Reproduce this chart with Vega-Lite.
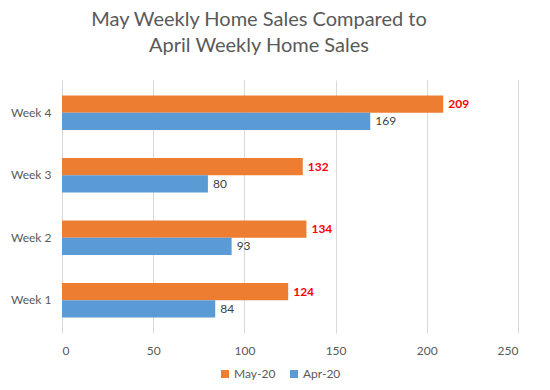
{
  "$schema": "https://vega.github.io/schema/vega-lite/v6.json",
  "width": 550,
  "height": 390,
  "autosize": {"type": "fit", "contains": "padding"},
  "padding": {"left": 10, "right": 32, "top": 10, "bottom": 34},
  "background": "white",
  "title": {
    "text": ["May Weekly Home Sales Compared to", "April Weekly Home Sales"],
    "font": "Lato",
    "fontSize": 20,
    "fontWeight": "normal",
    "color": "#595959",
    "lineHeight": 26,
    "offset": 24,
    "anchor": "middle",
    "dx": -31
  },
  "config": {
    "view": {"stroke": null},
    "font": "Lato"
  },
  "data": {
    "values": [
      {"week": "Week 4", "series": "May-20", "value": 209},
      {"week": "Week 4", "series": "Apr-20", "value": 169},
      {"week": "Week 3", "series": "May-20", "value": 132},
      {"week": "Week 3", "series": "Apr-20", "value": 80},
      {"week": "Week 2", "series": "May-20", "value": 134},
      {"week": "Week 2", "series": "Apr-20", "value": 93},
      {"week": "Week 1", "series": "May-20", "value": 124},
      {"week": "Week 1", "series": "Apr-20", "value": 84}
    ]
  },
  "encoding": {
    "y": {
      "field": "week",
      "type": "nominal",
      "sort": ["Week 4", "Week 3", "Week 2", "Week 1"],
      "scale": {"paddingInner": 0.45, "paddingOuter": 0.25},
      "axis": {
        "title": null,
        "domain": false,
        "ticks": false,
        "labelFontSize": 12,
        "labelColor": "#595959",
        "labelPadding": 11
      }
    },
    "yOffset": {
      "field": "series",
      "sort": ["May-20", "Apr-20"]
    },
    "x": {
      "field": "value",
      "type": "quantitative",
      "scale": {"domain": [0, 250]},
      "axis": {
        "title": null,
        "domain": false,
        "ticks": false,
        "values": [0, 50, 100, 150, 200, 250],
        "labelFontSize": 12,
        "labelColor": "#595959",
        "labelPadding": 12,
        "gridColor": "#D9D9D9"
      }
    }
  },
  "layer": [
    {
      "mark": {"type": "bar", "stroke": null},
      "encoding": {
        "color": {
          "field": "series",
          "type": "nominal",
          "scale": {"domain": ["May-20", "Apr-20"], "range": ["#ED7D31", "#5B9BD5"]},
          "legend": {
            "title": null,
            "orient": "none",
            "legendX": 157,
            "legendY": 288,
            "direction": "horizontal",
            "symbolType": "square",
            "symbolSize": 64,
            "symbolOffset": 0,
            "labelFontSize": 12,
            "labelColor": "#595959",
            "labelOffset": 3,
            "columnPadding": 12
          }
        }
      }
    },
    {
      "transform": [{"filter": "datum.series == 'May-20'"}],
      "mark": {"type": "text", "align": "left", "dx": 5, "fontSize": 12, "fontWeight": "bold", "color": "#FF0000"},
      "encoding": {"text": {"field": "value", "type": "quantitative"}}
    },
    {
      "transform": [{"filter": "datum.series == 'Apr-20'"}],
      "mark": {"type": "text", "align": "left", "dx": 5, "fontSize": 12, "color": "#404040"},
      "encoding": {"text": {"field": "value", "type": "quantitative"}}
    }
  ]
}
